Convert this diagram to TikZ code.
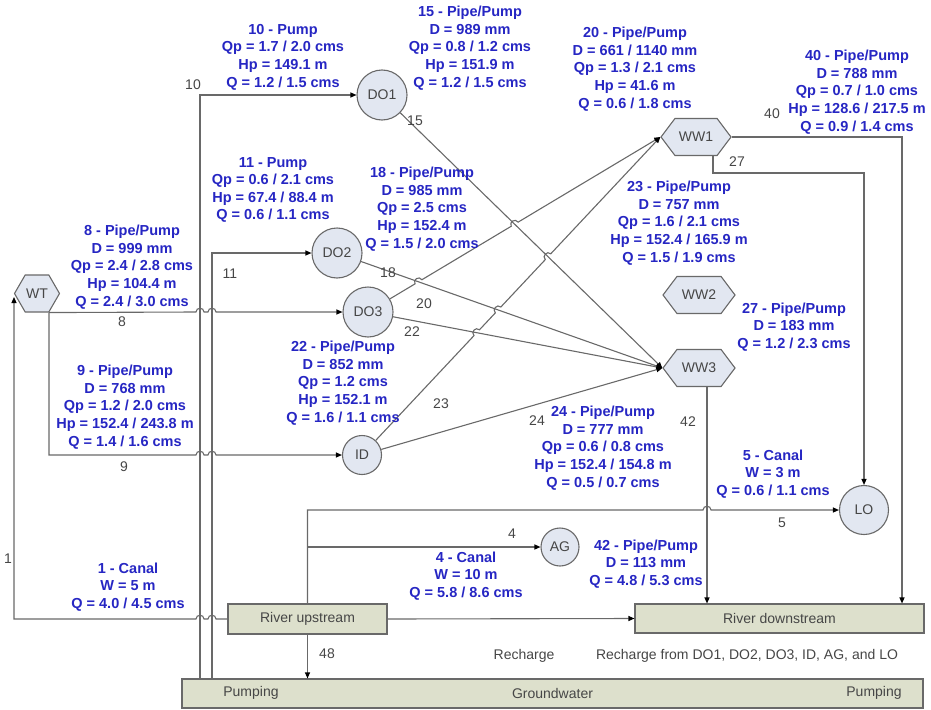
\documentclass[tikz,border=0pt]{standalone}
\usepackage{fontspec}
\setmainfont{Liberation Sans}
\usetikzlibrary{shapes.symbols,arrows.meta,calc,intersections}
\definecolor{lblue}{RGB}{38,38,195}
\definecolor{ngray}{RGB}{70,70,70}
\definecolor{lgray}{RGB}{105,105,105}
\definecolor{cfill}{RGB}{226,231,241}
\definecolor{bfill}{RGB}{221,224,204}
\tikzset{
  lbl/.style={font=\fontsize{14.5}{17.6}\selectfont\bfseries, text=lblue, align=center, inner sep=0pt},
  num/.style={font=\fontsize{14}{16}\selectfont, text=ngray, inner sep=0pt},
  circ/.style={circle, draw=lgray, line width=1.1pt, fill=cfill, inner sep=0pt, font=\fontsize{14}{16}\selectfont, text=ngray},
  hexa/.style={signal, signal to=east and west, draw=lgray, line width=1.1pt, fill=cfill, inner sep=0pt, font=\fontsize{14}{16}\selectfont, text=ngray},
  boxx/.style={rectangle, draw=lgray, line width=1.1pt, fill=bfill, inner sep=0pt, font=\fontsize{14}{16}\selectfont, text=ngray},
  link/.style={draw=lgray, line width=1.1pt},
  arr/.style={-{Triangle[length=6pt,width=5pt,color=black]}},
  hop/.style={bend left=90, looseness=1.6},
  hopr/.style={bend right=90, looseness=1.6}
}
\begin{document}
\begin{tikzpicture}[x=1pt,y=-1pt]
\useasboundingbox (0,0) rectangle (931,709);
% nodes
\node[circ, minimum size=50] (DO1) at (382,95) {DO1};
\node[circ, minimum size=50] (DO2) at (337,253) {DO2};
\node[circ, minimum size=50] (DO3) at (368,312) {DO3};
\node[circ, minimum size=39] (ID) at (362,455) {ID};
\node[circ, minimum size=38] (AG) at (560,547) {AG};
\node[circ, minimum size=49] (LO) at (864,510) {LO};
\node[hexa, signal pointer angle=106, minimum width=70, minimum height=37] (WW1) at (696,137) {WW1};
\node[hexa, signal pointer angle=106, minimum width=72, minimum height=37] (WW2) at (699,295) {WW2};
\node[hexa, signal pointer angle=106, minimum width=72, minimum height=37] (WW3) at (699,368) {WW3};
\node[hexa, signal pointer angle=120, minimum width=45, minimum height=37] (WT) at (37,293.5) {WT};
\node[boxx, minimum width=159, minimum height=30] (RU) at (307.5,619) {River upstream};
\node[boxx, minimum width=289, minimum height=29] (RD) at (779.5,618.5) {River downstream};
\node[boxx, minimum width=741, minimum height=29] (GW) at (552.5,693.5) {Groundwater};
\node[num] (pl) at (251,693) {Pumping};
\node[num] (pr) at (874,693) {Pumping};
\node[num] (rc) at (524,656) {Recharge};
\node[num] (rcf) at (747,656) {Recharge from DO1, DO2, DO3, ID, AG, and LO};
% helper coordinates
\coordinate (wtc) at ([xshift=12pt]WT.south);
\coordinate (k10) at (200,95);
\coordinate (k11) at (212,253);
\coordinate (k40) at (902,137);
\coordinate (k27) at (864,173);
\coordinate (k42) at ([xshift=8pt]WW3.south);
% orthogonal links
\draw[link,arr] (k10 |- GW.north) -- (k10) -- (DO1);
\draw[link,arr] (k11 |- GW.north) -- (k11) -- (DO2);
\draw[link,arr] (wtc) -- (196,312) to[hop] (204,312) -- (208,312) to[hop] (216,312) -- (DO3);
\draw[link,arr] (wtc) -- (wtc |- ID) -- (196,455) to[hop] (204,455) -- (208,455) to[hop] (216,455) -- (ID);
\draw[link,arr] (RU.west) -- (216,619) to[hopr] (208,619) -- (204,619) to[hopr] (196,619) -- (14,619) -- (14,297);
\draw[link,arr] (RU.north) -- (RU.north |- LO) -- (703,510) to[hop] (711,510) -- (LO);
\draw[link,arr] (RU.north |- AG) -- (AG);
\draw[link,arr] (RU.south) -- (RU.south |- GW.north);
\draw[link,arr] (RU.east) -- (RD.west);
\draw[link,arr] (k42) -- (k42 |- RD.north);
\draw[link,arr] (WW1.east) -- (k40) -- (k40 |- RD.north);
\draw[link,arr] ([xshift=17pt]WW1.south) |- (k27) -- (LO);
% diagonal links
\path[name path=p15] (DO1) -- (WW3.west);
\path[name path=p18] (DO2) -- (WW3.west);
\path[name path=p22] (DO3) -- (WW3.west);
\path[name path=p20] (DO3) -- (WW1.west);
\path[name path=p23] (ID) -- (WW1.west);
\path[name intersections={of=p20 and p18, by=a1}];
\path[name intersections={of=p20 and p15, by=a2}];
\path[name intersections={of=p23 and p22, by=b1}];
\path[name intersections={of=p23 and p18, by=b2}];
\path[name intersections={of=p23 and p15, by=b3}];
\draw[link,arr] (DO1) -- (WW3.west);
\draw[link,arr] (DO2) -- (WW3.west);
\draw[link,arr] (DO3) -- (WW3.west);
\draw[link,arr] (ID) -- (WW3.west);
\draw[link,arr] (DO3) -- ($(a1)!4pt!(DO3)$) to[hop] ($(a1)!4pt!(WW1.west)$)
   -- ($(a2)!4pt!(DO3)$) to[hop] ($(a2)!4pt!(WW1.west)$) -- (WW1.west);
\draw[link,arr] (ID) -- ($(b1)!4pt!(ID)$) to[hop] ($(b1)!4pt!(WW1.west)$)
   -- ($(b2)!4pt!(ID)$) to[hop] ($(b2)!4pt!(WW1.west)$)
   -- ($(b3)!4pt!(ID)$) to[hop] ($(b3)!4pt!(WW1.west)$) -- (WW1.west);
% link numbers
\node[num] (n10) at (193,85) {10};
\node[num] (n15) at (415,121) {15};
\node[num] (n11) at (230,274) {11};
\node[num] (n18) at (388,273) {18};
\node[num] (n20) at (424,304) {20};
\node[num] (n22) at (412,332) {22};
\node[num] (n8) at (122,322) {8};
\node[num] (n9) at (124,467) {9};
\node[num] (n23) at (441,404) {23};
\node[num] (n24) at (537,421) {24};
\node[num] (n42) at (688,422) {42};
\node[num] (n40) at (772,114) {40};
\node[num] (n27) at (737,162) {27};
\node[num] (n5) at (782,523) {5};
\node[num] (n4) at (512,534) {4};
\node[num] (n1) at (8,559) {1};
\node[num] (n48) at (327,654) {48};
% blue labels
\node[lbl] (t10) at (283,57) {10 - Pump\\Qp = 1.7 / 2.0 cms\\Hp = 149.1 m\\Q = 1.2 / 1.5 cms};
\node[lbl] (t15) at (470,48) {15 - Pipe/Pump\\D = 989 mm\\Qp = 0.8 / 1.2 cms\\Hp = 151.9 m\\Q = 1.2 / 1.5 cms};
\node[lbl] (t20) at (635,69) {20 - Pipe/Pump\\D = 661 / 1140 mm\\Qp = 1.3 / 2.1 cms\\Hp = 41.6 m\\Q = 0.6 / 1.8 cms};
\node[lbl] (t40) at (857,92) {40 - Pipe/Pump\\D = 788 mm\\Qp = 0.7 / 1.0 cms\\Hp = 128.6 / 217.5 m\\Q = 0.9 / 1.4 cms};
\node[lbl] (t11) at (273,190) {11 - Pump\\Qp = 0.6 / 2.1 cms\\Hp = 67.4 / 88.4 m\\Q = 0.6 / 1.1 cms};
\node[lbl] (t18) at (422,209) {18 - Pipe/Pump\\D = 985 mm\\Qp = 2.5 cms\\Hp = 152.4 m\\Q = 1.5 / 2.0 cms};
\node[lbl] (t8) at (132,267) {8 - Pipe/Pump\\D = 999 mm\\Qp = 2.4 / 2.8 cms\\Hp = 104.4 m\\Q = 2.4 / 3.0 cms};
\node[lbl] (t9) at (125,407) {9 - Pipe/Pump\\D = 768 mm\\Qp = 1.2 / 2.0 cms\\Hp = 152.4 / 243.8 m\\Q = 1.4 / 1.6 cms};
\node[lbl] (t22) at (343,383) {22 - Pipe/Pump\\D = 852 mm\\Qp = 1.2 cms\\Hp = 152.1 m\\Q = 1.6 / 1.1 cms};
\node[lbl] (t23) at (679,223) {23 - Pipe/Pump\\D = 757 mm\\Qp = 1.6 / 2.1 cms\\Hp = 152.4 / 165.9 m\\Q = 1.5 / 1.9 cms};
\node[lbl] (t27) at (794,327) {27 - Pipe/Pump\\D = 183 mm\\Q = 1.2 / 2.3 cms};
\node[lbl] (t24) at (603,448) {24 - Pipe/Pump\\D = 777 mm\\Qp = 0.6 / 0.8 cms\\Hp = 152.4 / 154.8 m\\Q = 0.5 / 0.7 cms};
\node[lbl] (t5) at (773,474) {5 - Canal\\W = 3 m\\Q = 0.6 / 1.1 cms};
\node[lbl] (t4) at (466,576) {4 - Canal\\W = 10 m\\Q = 5.8 / 8.6 cms};
\node[lbl] (t42) at (646,564) {42 - Pipe/Pump\\D = 113 mm\\Q = 4.8 / 5.3 cms};
\node[lbl] (t1) at (128,587) {1 - Canal\\W = 5 m\\Q = 4.0 / 4.5 cms};
\end{tikzpicture}
\end{document}
